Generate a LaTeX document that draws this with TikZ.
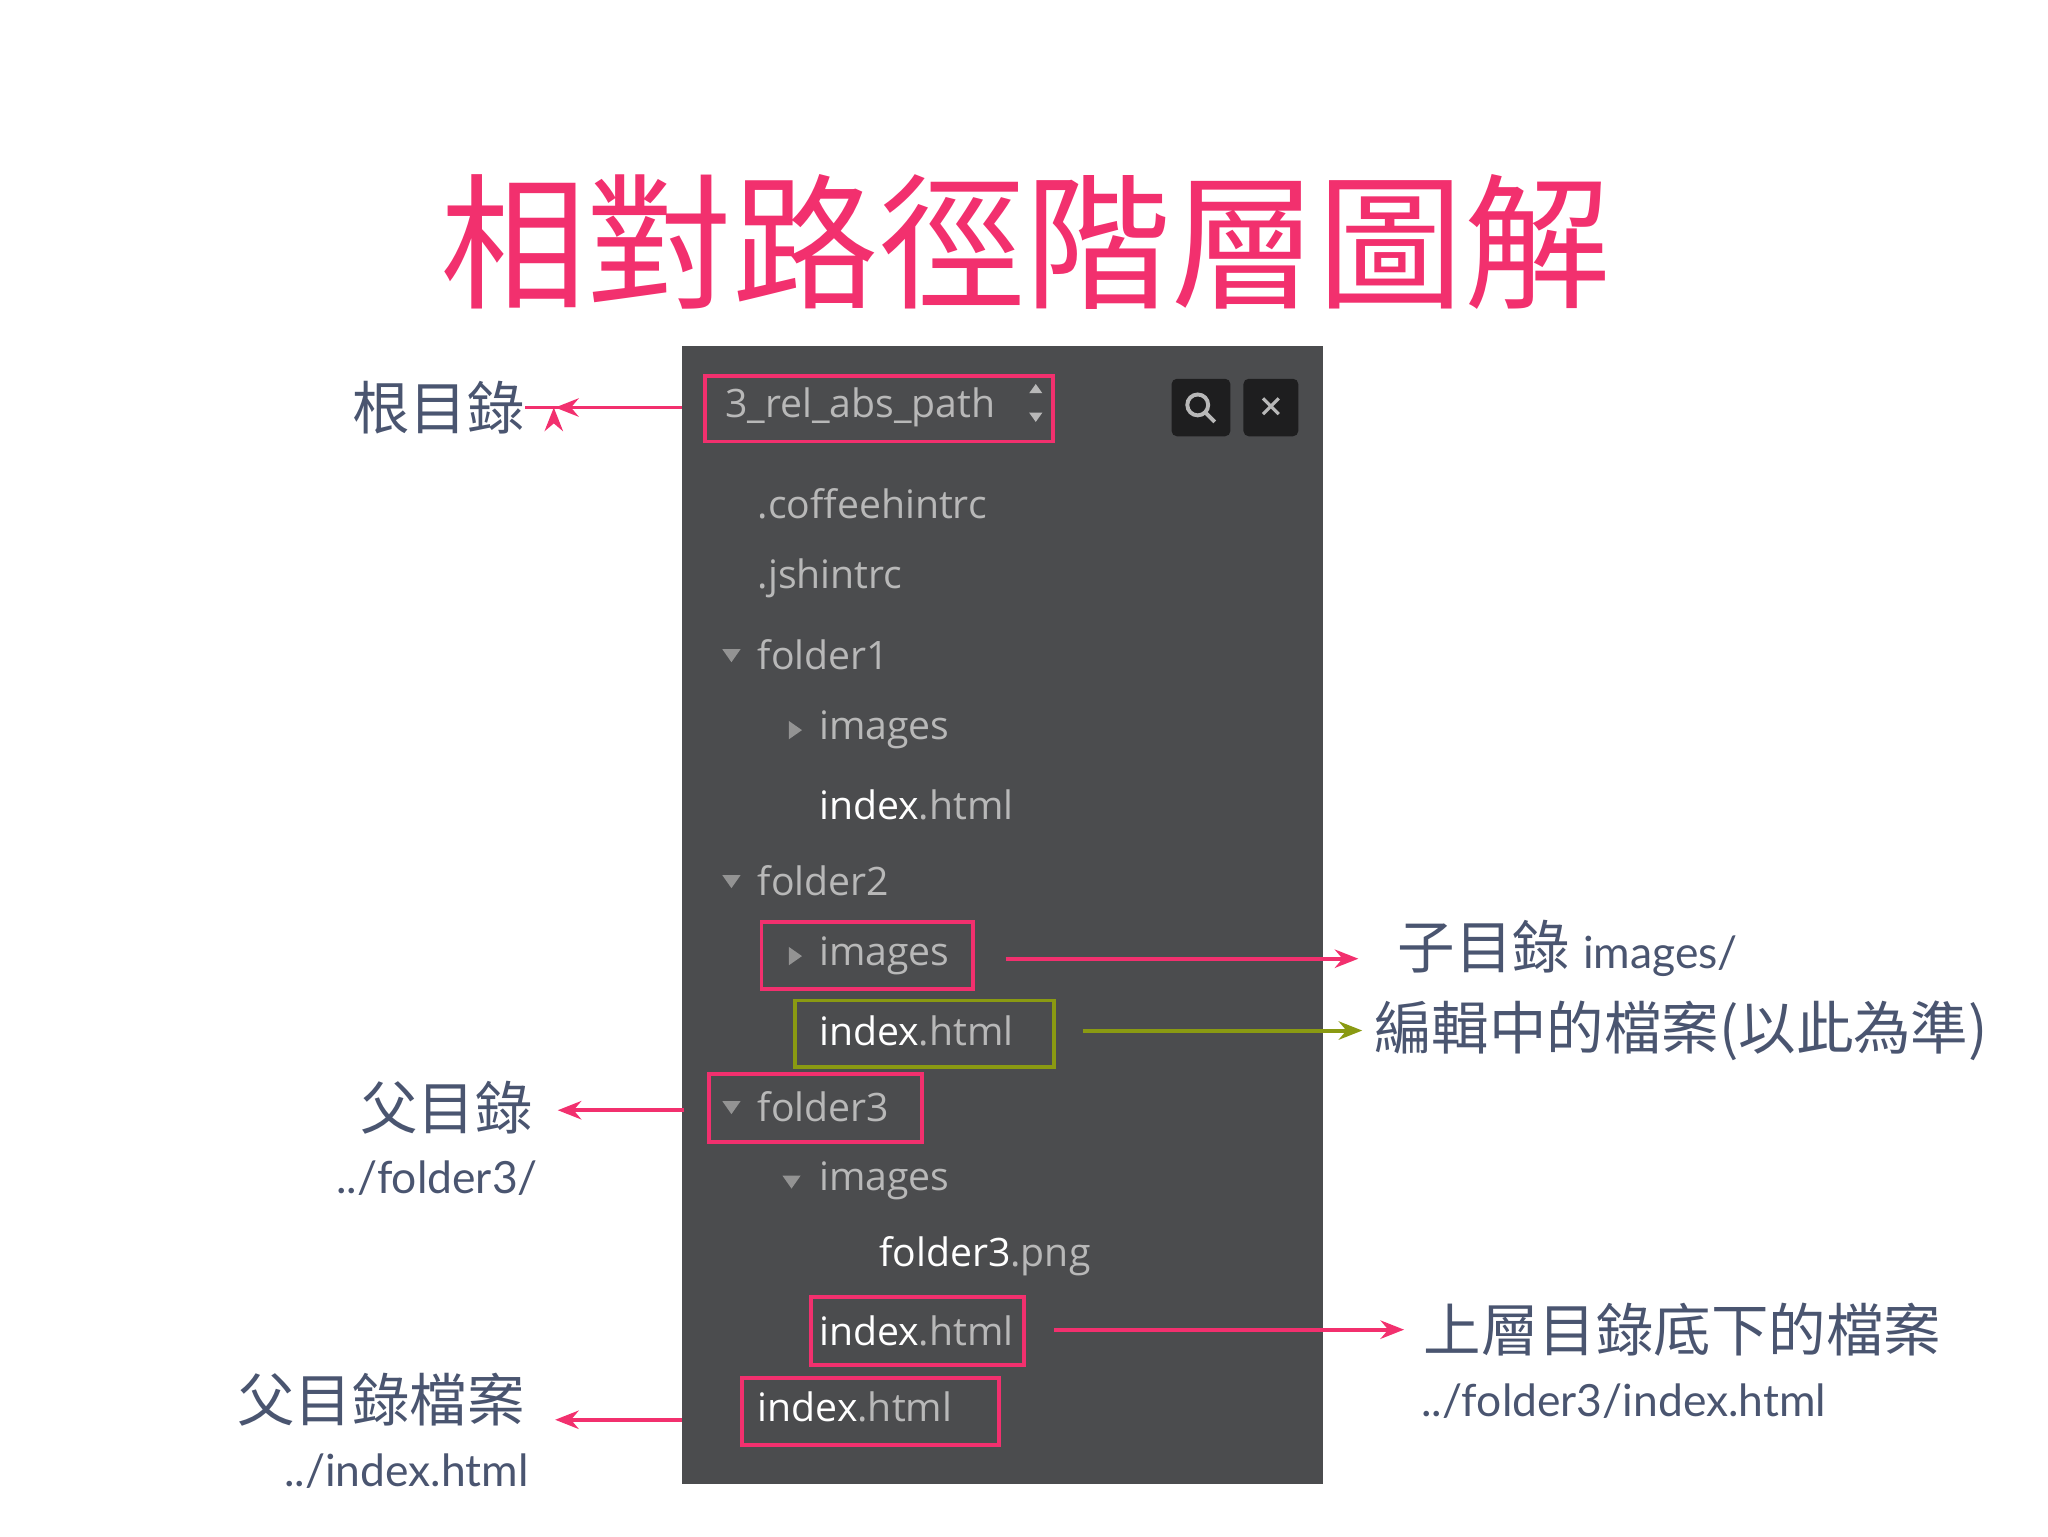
\documentclass[tikz,border=0pt]{standalone}
\usepackage{fontspec}
\setmainfont{Lato}
\newfontfamily\cjk{Noto Sans CJK TC}
\newfontfamily\treef{Open Sans}
\usetikzlibrary{arrows.meta}
\definecolor{pinkc}{HTML}{F2306E}
\definecolor{slate}{HTML}{4A5570}
\definecolor{panel}{HTML}{4B4C4E}
\definecolor{tgray}{HTML}{B8B8B8}
\definecolor{greenb}{HTML}{8A9A12}
\tikzset{
 lbl/.style={text=slate,font=\cjk\fontsize{44}{50}\selectfont,inner sep=0},
 path/.style={text=slate,font=\fontsize{34}{40}\selectfont,inner sep=0},
 item/.style={anchor=west,text=tgray,font=\treef\fontsize{30}{34}\selectfont,inner sep=0},
 rbox/.style={draw=pinkc,line width=3pt},
 gbox/.style={draw=greenb,line width=3pt},
 arr/.style={draw=pinkc,line width=3pt,-{Stealth[length=18pt,width=14pt]}},
 tri/.style={fill=tgray!80!black}
}
\newcommand{\wt}[2]{\textcolor{white}{#1}#2}
\begin{document}
\begin{tikzpicture}[x=1pt,y=-1pt]
\useasboundingbox (0,0) rectangle (1568,1176);
\node[text=pinkc,font=\cjk\fontsize{112}{120}\selectfont,inner sep=0] (title) at (785,185) {相對路徑階層圖解};
\fill[panel] (522,265) rectangle (1013,1136);
% top bar
\node[item,text=tgray] (root) at (555,312) {3\_rel\_abs\_path};
\fill[tgray] (788,301) -- (798,301) -- (793,294) -- cycle (788,316) -- (798,316) -- (793,323) -- cycle;
\draw[rbox] (540,288) rectangle (806,338);
\fill[black!60!panel,rounded corners=4pt] (897,290) rectangle (942,334);
\fill[black!60!panel,rounded corners=4pt] (952,290) rectangle (994,334);
\draw[tgray,line width=3pt] (917,310) circle (8) (923,316) -- (930,323);
\draw[tgray,line width=2.5pt] (967,305) -- (979,317) (979,305) -- (967,317);
% items
\node[item] (c1) at (580,386) {.coffeehintrc};
\node[item] (c2) at (580,443) {.jshintrc};
\fill[tri] (553,497) -- (567,497) -- (560,507) -- cycle;
\node[item] (f1) at (580,501) {folder1};
\fill[tri] (604,552) -- (604,566) -- (614,559) -- cycle;
\node[item] (i1) at (627,559) {images};
\node[item] (x1) at (627,616) {\wt{index}{.html}};
\fill[tri] (553,670) -- (567,670) -- (560,680) -- cycle;
\node[item] (f2) at (580,674) {folder2};
\fill[tri] (604,725) -- (604,739) -- (614,732) -- cycle;
\node[item] (i2) at (627,732) {images};
\node[item] (x2) at (627,789) {\wt{index}{.html}};
\fill[tri] (553,843) -- (567,843) -- (560,853) -- cycle;
\node[item] (f3) at (580,847) {folder3};
\fill[tri] (599,900) -- (613,900) -- (606,910) -- cycle;
\node[item] (i3) at (627,904) {images};
\node[item] (p3) at (673,962) {\wt{folder3}{.png}};
\node[item] (x3) at (627,1019) {\wt{index}{.html}};
\node[item] (x0) at (580,1077) {\wt{index}{.html}};
% boxes
\draw[rbox] (583,706) rectangle (745,757);
\draw[gbox] (609,766) rectangle (807,817);
\draw[rbox] (543,822) rectangle (706,874);
\draw[rbox] (621,993) rectangle (784,1045);
\draw[rbox] (568,1055) rectangle (765,1106);
% left labels
\node[lbl,anchor=east] (l1) at (402,312) {根目錄};
\coordinate (a1) at (522,312);
\draw[arr] (a1) -- (l1.east) ++(22,0);
\draw[arr] (a1) -- (425,312);
\node[lbl,anchor=east] (l2) at (408,848) {父目錄};
\node[path,anchor=east] (l2b) at (412,902) {../folder3/};
\coordinate (a2) at (524,850);
\draw[arr] (a2) -- (427,850);
\node[lbl,anchor=east] (l3) at (402,1072) {父目錄檔案};
\node[path,anchor=east] (l3b) at (405,1126) {../index.html};
\coordinate (a3) at (522,1087);
\draw[arr] (a3) -- (425,1087);
% right labels
\node[lbl,anchor=west] (r1) at (1070,726) {子目錄 \fontspec{Lato}\fontsize{34}{40}\selectfont images/};
\coordinate (b1) at (770,734);
\draw[arr] (b1) -- (1040,734);
\node[lbl,anchor=west] (r2) at (1052,789) {編輯中的檔案(以此為準)};
\coordinate (b2) at (829,789);
\draw[draw=greenb,line width=3pt,-{Stealth[length=18pt,width=14pt]}] (b2) -- (1043,789);
\node[lbl,anchor=west] (r3) at (1090,1018) {上層目錄底下的檔案};
\node[path,anchor=west] (r3b) at (1088,1073) {../folder3/index.html};
\coordinate (b3) at (807,1018);
\draw[arr] (b3) -- (1075,1018);
\end{tikzpicture}
\end{document}
